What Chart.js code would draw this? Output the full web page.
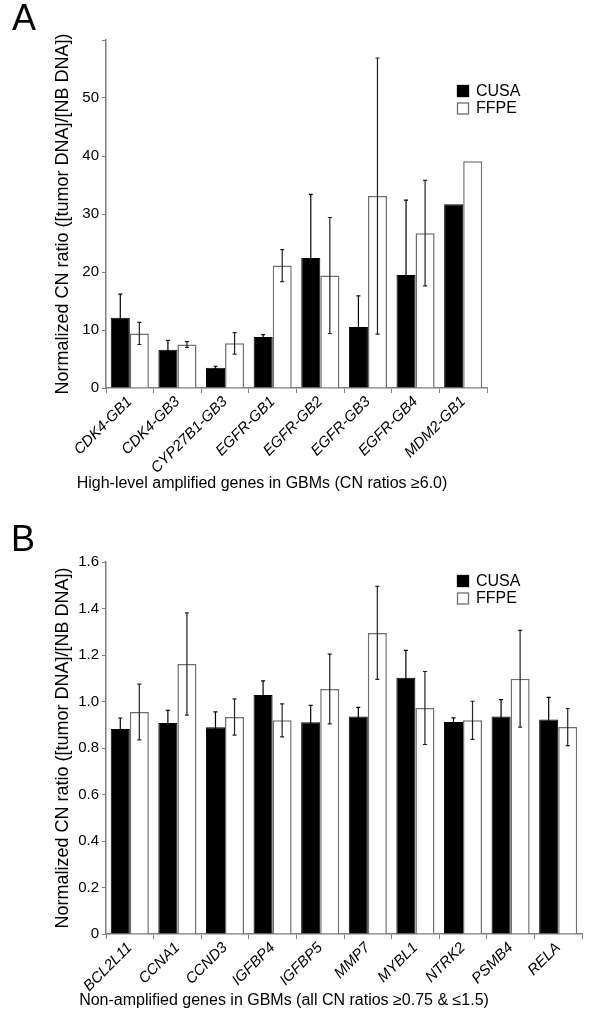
<!DOCTYPE html>
<html>
<head>
<meta charset="utf-8">
<script src="https://cdn.jsdelivr.net/npm/chart.js@4"></script>
<style>
  body { margin: 0; background: #fff; width: 600px; height: 1023px; position: relative; overflow: hidden; }
  canvas { position: absolute; left: 0; }
  .panel { position: absolute; font: 36px "Liberation Sans", Arial, sans-serif; color: #000; z-index: 2; }
  .xtitle { position: absolute; font: 16px "Liberation Sans", Arial, sans-serif; color: #000;
            white-space: nowrap; transform: translate(-50%, -50%); }
</style>
</head>
<body>
<canvas id="chartA" width="600" height="520" style="top:0"></canvas>
<div class="panel" style="left:12px;top:-3px">A</div>
<div class="xtitle" style="left:262px;top:483px">High-level amplified genes in GBMs (CN ratios &#8805;6.0)</div>
<canvas id="chartB" width="600" height="503" style="top:520px"></canvas>
<div class="panel" style="left:11px;top:518px">B</div>
<div class="xtitle" style="left:284px;top:1000px">Non-amplified genes in GBMs (all CN ratios &#8805;0.75 &amp; &#8804;1.5)</div>
<script>
// Panel A - high-level amplified genes
const genesA = ['CDK4-GB1', 'CDK4-GB3', 'CYP27B1-GB3', 'EGFR-GB1', 'EGFR-GB2', 'EGFR-GB3', 'EGFR-GB4', 'MDM2-GB1'];
const cusaA = [12.1, 6.6, 3.5, 8.8, 22.4, 10.5, 19.5, 31.7];
const cusaErrA = [4.1, 1.6, 0.25, 0.4, 11.0, 5.4, 12.9, 0];
const ffpeA = [9.4, 7.5, 7.7, 21.1, 19.4, 33.1, 26.7, 39.1];
const ffpeErrA = [1.9, 0.5, 1.85, 2.75, 10.0, 23.8, 9.1, 0];

// Panel B - non-amplified genes
const genesB = ['BCL2L11', 'CCNA1', 'CCND3', 'IGFBP4', 'IGFBP5', 'MMP7', 'MYBL1', 'NTRK2', 'PSMB4', 'RELA'];
const cusaB = [0.882, 0.908, 0.889, 1.028, 0.911, 0.936, 1.102, 0.912, 0.936, 0.923];
const cusaErrB = [0.047, 0.054, 0.066, 0.061, 0.072, 0.039, 0.118, 0.018, 0.072, 0.095];
const ffpeB = [0.955, 1.161, 0.933, 0.919, 1.054, 1.295, 0.972, 0.919, 1.098, 0.890];
const ffpeErrB = [0.12, 0.22, 0.078, 0.071, 0.15, 0.2, 0.157, 0.082, 0.208, 0.08];

const FONT = '"Liberation Sans", Arial, sans-serif';
const AXIS = '#7f7f7f';

// error bars drawn through the y scale
const errorBars = {
  id: 'errorBars',
  afterDatasetsDraw(chart) {
    const ctx = chart.ctx;
    const y = chart.scales.y;
    chart.data.datasets.forEach((ds, i) => {
      const meta = chart.getDatasetMeta(i);
      meta.data.forEach((bar, j) => {
        const e = ds.errs[j];
        if (!e) return;
        const top = y.getPixelForValue(ds.data[j] + e);
        const bot = y.getPixelForValue(ds.data[j] - e);
        ctx.save();
        ctx.strokeStyle = ds.errColor;
        ctx.lineWidth = 1.2;
        ctx.beginPath();
        ctx.moveTo(bar.x, top); ctx.lineTo(bar.x, bot);
        ctx.moveTo(bar.x - 2, top); ctx.lineTo(bar.x + 2, top);
        ctx.moveTo(bar.x - 2, bot); ctx.lineTo(bar.x + 2, bot);
        ctx.stroke();
        ctx.restore();
      });
    });
  }
};

// small legend box inside the plot
const boxLegend = {
  id: 'boxLegend',
  afterDraw(chart, args, opts) {
    const ctx = chart.ctx;
    ctx.save();
    ctx.font = '16px ' + FONT;
    ctx.textBaseline = 'middle';
    chart.data.datasets.forEach((ds, i) => {
      const yy = opts.y + i * 17.5;
      ctx.fillStyle = ds.backgroundColor;
      ctx.fillRect(opts.x, yy, 12, 12);
      ctx.strokeStyle = ds.borderColor;
      ctx.lineWidth = 1.3;
      ctx.strokeRect(opts.x + 0.5, yy + 0.5, 11, 11);
      ctx.fillStyle = '#000';
      ctx.fillText(ds.label, opts.x + 19, yy + 6.5);
    });
    ctx.restore();
  }
};

function makeChart(id, labels, cusa, cusaErr, ffpe, ffpeErr, yOpts, lay) {
  return new Chart(document.getElementById(id), {
    type: 'bar',
    data: {
      labels: labels,
      datasets: [
        { label: 'CUSA', data: cusa, errs: cusaErr, errColor: '#000',
          backgroundColor: '#000', borderColor: '#000', borderWidth: 1 },
        { label: 'FFPE', data: ffpe, errs: ffpeErr, errColor: '#222',
          backgroundColor: '#fff', borderColor: '#6f6f6f', borderWidth: 1.5 }
      ]
    },
    options: {
      responsive: false,
      animation: false,
      layout: { padding: lay.padding },
      datasets: { bar: { categoryPercentage: 0.8, barPercentage: 1.0 } },
      plugins: {
        legend: { display: false },
        tooltip: { enabled: false },
        boxLegend: lay.legend
      },
      scales: {
        x: {
          grid: { display: true, drawOnChartArea: false, color: AXIS, tickLength: 5, offset: true },
          border: { color: AXIS, width: 1.5 },
          ticks: {
            autoSkip: false, minRotation: 45, maxRotation: 45, color: '#000', padding: 0,
            font: { family: FONT, size: 15, style: 'italic' }
          },
          afterFit: s => { s.height = lay.xHeight; }
        },
        y: Object.assign({
          grid: { display: true, drawOnChartArea: false, color: AXIS, tickLength: 4 },
          border: { color: AXIS, width: 1.5 },
          title: { display: true, text: 'Normalized CN ratio ([tumor DNA]/[NB DNA])', color: '#000',
                   font: { family: FONT, size: 18 } },
          afterFit: s => { s.width = 58; }
        }, yOpts)
      }
    },
    plugins: [errorBars, boxLegend]
  });
}

makeChart('chartA', genesA, cusaA, cusaErrA, ffpeA, ffpeErrA, {
  min: 0, max: 60,
  ticks: { stepSize: 10, color: '#000', font: { family: FONT, size: 15 },
           callback: v => (v === 60 ? '' : v) }
}, {
  padding: { left: 48, right: 113, top: 40, bottom: 24 },
  xHeight: 108,
  legend: { x: 457, y: 85 }
});

makeChart('chartB', genesB, cusaB, cusaErrB, ffpeB, ffpeErrB, {
  min: 0, max: 1.6,
  ticks: { stepSize: 0.2, color: '#000', font: { family: FONT, size: 15 },
           callback: v => (v === 0 ? '0' : v.toFixed(1)) }
}, {
  padding: { left: 48, right: 18, top: 42, bottom: 10 },
  xHeight: 79,
  legend: { x: 457, y: 55 }
});
</script>
</body>
</html>
